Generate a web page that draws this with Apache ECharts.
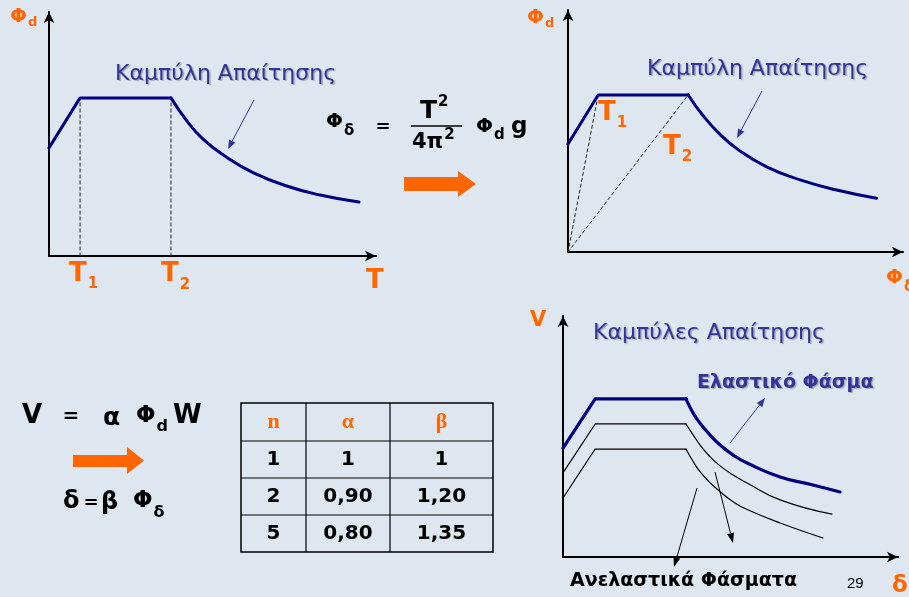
<!DOCTYPE html>
<html>
<head>
<meta charset="utf-8">
<script src="https://cdn.jsdelivr.net/npm/echarts/dist/echarts.min.js"></script>
<style>
html, body { margin: 0; padding: 0; background: #dee6ef; }
#main { width: 909px; height: 597px; }
</style>
</head>
<body>
<div id="main"></div>
<script>
// top-left: demand curve Φd over T (schematic units 0..100)
var curve1Rise = [[0, 44.3], [9.5, 64.8], [37.3, 64.8]];
var curve1Decay = [[37.3, 64.8], [42.1, 55.5], [47.2, 47.8], [54.3, 40.5], [62.4, 34.2], [72.7, 28.7], [82.9, 25.0], [94.8, 22.1]];
var periods1 = [9.5, 37.3];           // T1, T2
var plateau1 = 64.8;

// top-right: same curve in Φd - Φδ format
var curve2Rise = [[0, 44.6], [9.0, 64.9], [35.9, 64.9]];
var curve2Decay = [[35.9, 64.9], [40.4, 56.2], [45.4, 48.6], [50.8, 42.3], [59.3, 35.2], [69.3, 29.8], [80.2, 25.6], [92.1, 22.2]];
var periodRays2 = [[9.0, 64.9], [35.9, 64.9]];

// bottom-right: elastic + two inelastic spectra V - δ
var elasticRise = [[0, 45.2], [9.6, 65.6], [36.7, 65.6]];
var elasticDecay = [[36.7, 65.6], [38.9, 59.6], [40.9, 55.5], [43.9, 50.6], [46.9, 46.5], [50.8, 42.3], [54.8, 39.1], [64.8, 33.2], [74.6, 29.9], [82.7, 27.0]];
var inelastic2Rise = [[0, 34.9], [9.6, 55.2], [36.7, 55.2]];
var inelastic2Decay = [[36.7, 55.2], [38.9, 50.6], [40.9, 46.5], [43.9, 41.6], [46.9, 37.8], [50.8, 34.0], [54.8, 30.8], [64.8, 23.7], [80.3, 17.8]];
var inelastic5Rise = [[0, 24.5], [9.6, 44.8], [36.7, 44.8]];
var inelastic5Decay = [[36.7, 44.8], [38.9, 39.5], [40.9, 35.4], [43.9, 30.8], [46.9, 27.1], [50.8, 22.9], [54.8, 19.8], [64.8, 14.1], [77.6, 7.9]];

// table of reduction factors
var tableHead = ['n', 'α', 'β'];
var tableN = ['1', '2', '5'];
var tableAlpha = ['1', '0,90', '0,80'];
var tableBeta = ['1', '1,20', '1,35'];

var NAVY = '#000080', BLUE = '#333399', ORANGE = '#ff6600';
var FONT = 'DejaVu Sans';

var measureCtx = document.createElement('canvas').getContext('2d');
function fontOf(o) {
  return (o.w || 'bold') + ' ' + (o.s || 20) + 'px "' + (o.f || FONT) + '"';
}
function textWidth(s, o) {
  measureCtx.font = fontOf(o);
  return measureCtx.measureText(s).width;
}

function axis(idx) {
  return {
    gridIndex: idx, type: 'value', min: 0, max: 100,
    axisLine: { show: true, onZero: false, symbol: ['none', 'arrow'], symbolSize: [8, 11],
      lineStyle: { color: '#000', width: 2 } },
    axisTick: { show: false }, axisLabel: { show: false }, splitLine: { show: false }
  };
}

function line(idx, data, width, color, smooth, dash) {
  return {
    type: 'line', xAxisIndex: idx, yAxisIndex: idx, data: data, symbol: 'none',
    smooth: smooth ? 0.5 : false, silent: true, z: dash ? 1 : 3,
    lineStyle: { width: width, color: color, type: dash ? [3, 3] : 'solid', cap: 'round', join: 'round' }
  };
}

function txt(x, y, s, o) {
  o = o || {};
  var st = {
    text: s, x: x, y: y, fill: o.c || '#000', font: fontOf(o),
    align: o.a || 'left', verticalAlign: 'middle',
    textAlign: o.a || 'left', textVerticalAlign: 'middle'
  };
  if (o.shadow) {
    st.textShadowColor = 'rgba(90,90,110,0.45)';
    st.textShadowOffsetX = 1.5;
    st.textShadowOffsetY = 1.5;
    st.textShadowBlur = 1;
  }
  return { type: 'text', z: 10, style: st };
}

// main glyph + sub/superscript placed right after it
function sub(x, y, main, small, o, so, dy) {
  var w = textWidth(main, o);
  return [txt(x, y, main, o), txt(x + w + 1, y + dy, small, so)];
}

function arrow(x1, y1, x2, y2, color, w, hl, hw) {
  var ang = Math.atan2(y2 - y1, x2 - x1);
  var bx = x2 - hl * Math.cos(ang), by = y2 - hl * Math.sin(ang);
  var px = -Math.sin(ang) * hw, py = Math.cos(ang) * hw;
  return [
    { type: 'line', z: 10, shape: { x1: x1, y1: y1, x2: bx, y2: by }, style: { stroke: color, lineWidth: w } },
    { type: 'polygon', z: 10, shape: { points: [[x2, y2], [bx + px, by + py], [bx - px, by - py]] }, style: { fill: color } }
  ];
}

var chart = echarts.init(document.getElementById('main'));

var series = [
  line(0, curve1Rise, 3, NAVY, false),
  line(0, curve1Decay, 3, NAVY, true),
  line(1, curve2Rise, 3, NAVY, false),
  line(1, curve2Decay, 3, NAVY, true),
  line(2, elasticRise, 3.2, NAVY, false),
  line(2, elasticDecay, 3.2, NAVY, true),
  line(2, inelastic2Rise, 1.2, '#000', false),
  line(2, inelastic2Decay, 1.2, '#000', true),
  line(2, inelastic5Rise, 1.2, '#000', false),
  line(2, inelastic5Decay, 1.2, '#000', true)
];
periods1.forEach(function (t) {
  series.push(line(0, [[t, 0], [t, plateau1]], 1, '#222', false, true));
});
periodRays2.forEach(function (p) {
  series.push(line(1, [[0, 0], p], 1, '#222', false, true));
});

var OR = { c: ORANGE, s: 20 }, ORs = { c: ORANGE, s: 13 };
var TT = { c: ORANGE, s: 26 }, TTs = { c: ORANGE, s: 15 };

var g = [];
// top-left labels
g = g.concat(sub(10, 17, 'Φ', 'd', OR, ORs, 6));
g = g.concat(sub(69, 274, 'T', '1', TT, TTs, 10));
g = g.concat(sub(161, 274, 'T', '2', TT, TTs, 11));
g.push(txt(366, 281, 'T', TT));
g.push(txt(115, 74, 'Καμπύλη Απαίτησης', { c: BLUE, s: 22, w: 'normal', shadow: true }));
g = g.concat(arrow(254, 100, 228, 149, BLUE, 1, 9, 3.5));

// formula Φδ = T²/(4π²) Φd g
g = g.concat(sub(326, 122, 'Φ', 'δ', { s: 20 }, { s: 15 }, 9));
g.push(txt(383, 127, '=', { s: 18, a: 'center' }));
g = g.concat(sub(420, 111, 'T', '2', { s: 25 }, { s: 15 }, -9));
g.push({ type: 'line', z: 10, shape: { x1: 411, y1: 126, x2: 462, y2: 126 }, style: { stroke: '#000', lineWidth: 1.5 } });
g = g.concat(sub(412, 143, '4π', '2', { s: 21 }, { s: 15 }, -8));
g = g.concat(sub(476, 127, 'Φ', 'd', { s: 20 }, { s: 15 }, 8));
g.push(txt(511, 127, 'g', { s: 23 }));
g.push({ type: 'polygon', z: 10, shape: { points: [[404, 177], [458, 177], [458, 171], [476, 184], [458, 197], [458, 191], [404, 191]] }, style: { fill: ORANGE } });

// top-right labels
g = g.concat(sub(527, 18, 'Φ', 'd', OR, ORs, 6));
g = g.concat(sub(598, 113, 'T', '1', TT, TTs, 10));
g = g.concat(sub(663, 147, 'T', '2', TT, TTs, 10));
g = g.concat(sub(886, 278, 'Φ', 'δ', OR, { c: ORANGE, s: 15 }, 9));
g.push(txt(647, 69, 'Καμπύλη Απαίτησης', { c: BLUE, s: 22, w: 'normal', shadow: true }));
g = g.concat(arrow(762, 91, 737, 138, BLUE, 1, 9, 3.5));

// bottom-right labels
g.push(txt(530, 321, 'V', { c: ORANGE, s: 21 }));
g.push(txt(593, 333, 'Καμπύλες Απαίτησης', { c: BLUE, s: 22, w: 'normal', shadow: true }));
g.push(txt(697, 383, 'Ελαστικό Φάσμα', { c: BLUE, s: 19, shadow: true }));
g.push(txt(570, 581, 'Ανελαστικά Φάσματα', { s: 19 }));
g.push(txt(847, 584, '29', { s: 15, w: 'normal', f: 'Liberation Sans' }));
g.push(txt(892, 586, 'δ', { c: ORANGE, s: 23 }));
g = g.concat(arrow(730, 443, 765, 398, BLUE, 1, 9, 3.5));
g = g.concat(arrow(715, 472, 733, 543, '#000', 1, 10, 3.5));
g = g.concat(arrow(697, 488, 674, 567, '#000', 1, 10, 3.5));

// bottom-left formulas
g.push(txt(22, 416, 'V', { s: 26 }), txt(71, 417, '=', { s: 20, a: 'center' }));
g.push(txt(103, 418, 'α', { s: 25 }));
g = g.concat(sub(136, 416, 'Φ', 'd', { s: 23 }, { s: 16 }, 11));
g.push(txt(173, 416, 'W', { s: 26 }));
g.push({ type: 'polygon', z: 10, shape: { points: [[73, 455], [127, 455], [127, 447], [144, 460.5], [127, 474], [127, 467], [73, 467]] }, style: { fill: ORANGE } });
g.push(txt(63, 502, 'δ', { s: 24 }), txt(91, 503, '=', { s: 18, a: 'center' }), txt(101, 503, 'β', { s: 24 }));
g = g.concat(sub(133, 501, 'Φ', 'δ', { s: 23 }, { s: 16 }, 12));

// table
var colX = [241, 306, 390, 493];
var rowY = [403, 441, 478, 515, 552];
g.push({ type: 'rect', z: 9, shape: { x: colX[0], y: rowY[0], width: colX[3] - colX[0], height: rowY[4] - rowY[0] }, style: { fill: 'none', stroke: '#000', lineWidth: 1.5 } });
[1, 2].forEach(function (i) {
  g.push({ type: 'line', z: 9, shape: { x1: colX[i], y1: rowY[0], x2: colX[i], y2: rowY[4] }, style: { stroke: '#000', lineWidth: 1.2 } });
});
[1, 2, 3].forEach(function (i) {
  g.push({ type: 'line', z: 9, shape: { x1: colX[0], y1: rowY[i], x2: colX[3], y2: rowY[i] }, style: { stroke: '#000', lineWidth: 1.2 } });
});
function cx(i) { return (colX[i] + colX[i + 1]) / 2; }
function cy(i) { return (rowY[i] + rowY[i + 1]) / 2; }
tableHead.forEach(function (h, i) {
  g.push(txt(cx(i), cy(0), h, { c: ORANGE, s: 22, f: 'Liberation Serif', a: 'center' }));
});
[tableN, tableAlpha, tableBeta].forEach(function (col, i) {
  col.forEach(function (v, r) {
    g.push(txt(cx(i), cy(r + 1), v, { s: 20, a: 'center' }));
  });
});

chart.setOption({
  backgroundColor: '#dee6ef',
  animation: false,
  grid: [
    { left: 49, top: 12, width: 327, height: 244 },
    { left: 568, top: 10, width: 335, height: 242 },
    { left: 563, top: 316, width: 335, height: 241 }
  ],
  xAxis: [axis(0), axis(1), axis(2)],
  yAxis: [axis(0), axis(1), axis(2)],
  series: series,
  graphic: g
});
</script>
</body>
</html>
